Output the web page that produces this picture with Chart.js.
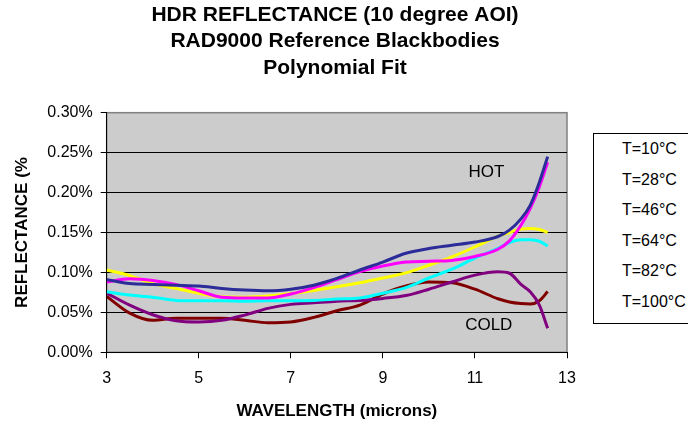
<!DOCTYPE html>
<html>
<head>
<meta charset="utf-8">
<script src="https://cdn.jsdelivr.net/npm/chart.js@4.4.0/dist/chart.umd.min.js"></script>
<style>
  html, body { margin: 0; padding: 0; background: #fff; overflow: hidden; }
  #wrap { position: relative; width: 688px; height: 430px; }
  #legend {
    position: absolute; left: 593px; top: 133px; width: 130px; height: 189px;
    border: 1px solid #000; background: #fff;
    font: 16px "Liberation Sans", Arial, sans-serif; color: #000;
  }
  #legend div { position: absolute; left: 28px; line-height: 20px; white-space: nowrap; }
</style>
</head>
<body>
<div id="wrap">
  <canvas id="chart" width="688" height="430"></canvas>
  <div id="legend"></div>
</div>
<script>
// wavelength in microns, reflectance in %
const wavelength = [3, 3.5, 4, 4.5, 5, 5.5, 6, 6.5, 7, 7.5, 8, 8.5, 9, 9.5, 10, 10.5, 11, 11.5, 11.75, 12, 12.2, 12.4, 12.58];

const t10 = [0.091, 0.086, 0.085, 0.084, 0.083, 0.080, 0.078, 0.077, 0.079, 0.084, 0.0925, 0.103, 0.113, 0.124, 0.130, 0.134, 0.138, 0.145, 0.153, 0.167, 0.184, 0.213, 0.245];
const t28 = [0.088, 0.092, 0.090, 0.085, 0.077, 0.069, 0.068, 0.068, 0.073, 0.081, 0.091, 0.101, 0.108, 0.113, 0.114, 0.115, 0.120, 0.129, 0.1395, 0.159, 0.180, 0.207, 0.238];
const t46 = [0.103, 0.096, 0.086, 0.080, 0.074, 0.0695, 0.069, 0.0704, 0.0737, 0.0775, 0.082, 0.087, 0.093, 0.0995, 0.109, 0.1195, 0.132, 0.1454, 0.150, 0.1545, 0.155, 0.1537, 0.150];
const t64 = [0.0758, 0.0716, 0.069, 0.065, 0.0645, 0.0645, 0.064, 0.0645, 0.0645, 0.065, 0.0666, 0.068, 0.074, 0.081, 0.093, 0.104, 0.118, 0.130, 0.1375, 0.141, 0.141, 0.139, 0.133];
const t82 = [0.074, 0.059, 0.047, 0.0395, 0.038, 0.040, 0.0466, 0.055, 0.060, 0.062, 0.064, 0.065, 0.0675, 0.071, 0.079, 0.088, 0.0966, 0.1008, 0.099, 0.085, 0.0758, 0.059, 0.030];
const t100 = [0.070, 0.049, 0.040, 0.0425, 0.0425, 0.0425, 0.040, 0.037, 0.038, 0.0437, 0.052, 0.059, 0.073, 0.083, 0.088, 0.087, 0.079, 0.067, 0.063, 0.061, 0.0604, 0.0645, 0.076];

const seriesLabels = ['T=10°C', 'T=28°C', 'T=46°C', 'T=64°C', 'T=82°C', 'T=100°C'];
const seriesColors = ['#2b2b99', '#ff00ff', '#ffff00', '#00ffff', '#800080', '#800000'];
const seriesValues = [t10, t28, t46, t64, t82, t100];

const xTickValues = [3, 5, 7, 9, 11, 13];
const yTickValues = [0, 0.05, 0.10, 0.15, 0.20, 0.25, 0.30];

const notes = [
  { text: 'HOT', x: 11.25, y: 0.225 },
  { text: 'COLD', x: 11.3, y: 0.034 }
];

const FONT = '"Liberation Sans", Arial, sans-serif';
Chart.defaults.font.family = FONT;
Chart.defaults.color = '#000';

// grey plot area with grey frame
const plotBg = {
  id: 'plotBg',
  beforeDraw(chart) {
    const { ctx, chartArea: a } = chart;
    ctx.save();
    ctx.fillStyle = '#cccccc';
    ctx.fillRect(a.left, a.top, a.width, a.height);
    ctx.strokeStyle = '#808080';
    ctx.lineWidth = 1.5;
    ctx.strokeRect(a.left, a.top, a.width, a.height);
    ctx.restore();
  }
};

// HOT / COLD labels placed in data units
const plotNotes = {
  id: 'plotNotes',
  afterDatasetsDraw(chart) {
    const { ctx, scales } = chart;
    ctx.save();
    ctx.font = '17px ' + FONT;
    ctx.fillStyle = '#000';
    ctx.textAlign = 'center';
    ctx.textBaseline = 'middle';
    notes.forEach(n => {
      ctx.fillText(n.text, scales.x.getPixelForValue(n.x), scales.y.getPixelForValue(n.y));
    });
    ctx.restore();
  }
};

const datasets = seriesLabels.map((label, i) => ({
  label,
  data: wavelength.map((w, j) => ({ x: w, y: seriesValues[i][j] })),
  borderColor: seriesColors[i],
  borderWidth: 3,
  pointRadius: 0,
  fill: false,
  cubicInterpolationMode: 'monotone'
}));

new Chart(document.getElementById('chart'), {
  type: 'line',
  data: { datasets },
  plugins: [plotBg, plotNotes],
  options: {
    responsive: false,
    animation: false,
    layout: { padding: { left: 0, right: 18, top: 0, bottom: 0 } },
    plugins: {
      legend: { display: false },
      tooltip: { enabled: false },
      title: {
        display: true,
        text: ['HDR REFLECTANCE (10 degree AOI)', 'RAD9000 Reference Blackbodies', 'Polynomial Fit'],
        font: { size: 21, weight: 'bold', lineHeight: 1.26 },
        color: '#000',
        padding: { top: 2, bottom: 31.3 }
      }
    },
    scales: {
      x: {
        type: 'linear',
        min: 3,
        max: 13,
        afterBuildTicks: s => { s.ticks = xTickValues.map(v => ({ value: v })); },
        afterFit: s => { s.height = 77.7; },
        grid: { drawOnChartArea: false, drawTicks: true, tickLength: 6, tickColor: '#000' },
        border: { color: '#000', width: 1 },
        ticks: { font: { size: 16 }, padding: 11, maxRotation: 0 },
        title: {
          display: true,
          text: 'WAVELENGTH (microns)',
          font: { size: 17, weight: 'bold' },
          padding: { top: 0, bottom: 8 }
        }
      },
      y: {
        min: 0,
        max: 0.3,
        afterBuildTicks: s => { s.ticks = yTickValues.map(v => ({ value: v })); },
        afterFit: s => { s.width = 106.7; },
        grid: {
          color: c => (c.tick && c.tick.value > 0.29) ? 'rgba(0,0,0,0)' : '#000',
          lineWidth: 1,
          drawTicks: true,
          tickLength: 6,
          tickColor: '#000'
        },
        border: { color: '#000', width: 1 },
        ticks: { font: { size: 16 }, padding: 8, callback: v => v.toFixed(2) + '%' },
        title: {
          display: true,
          text: 'REFLECTANCE (%',
          font: { size: 17, weight: 'bold' },
          padding: { top: 12, bottom: 0 }
        }
      },
      // empty right band that leaves room for the legend box
      gap: {
        position: 'right',
        display: true,
        afterFit: s => { s.width = 103; },
        grid: { display: false },
        border: { display: false },
        ticks: { display: false }
      }
    }
  }
});

const legendEl = document.getElementById('legend');
seriesLabels.forEach((label, i) => {
  const d = document.createElement('div');
  d.textContent = label;
  d.style.top = (5 + i * 30.5) + 'px';
  legendEl.appendChild(d);
});
</script>
</body>
</html>
